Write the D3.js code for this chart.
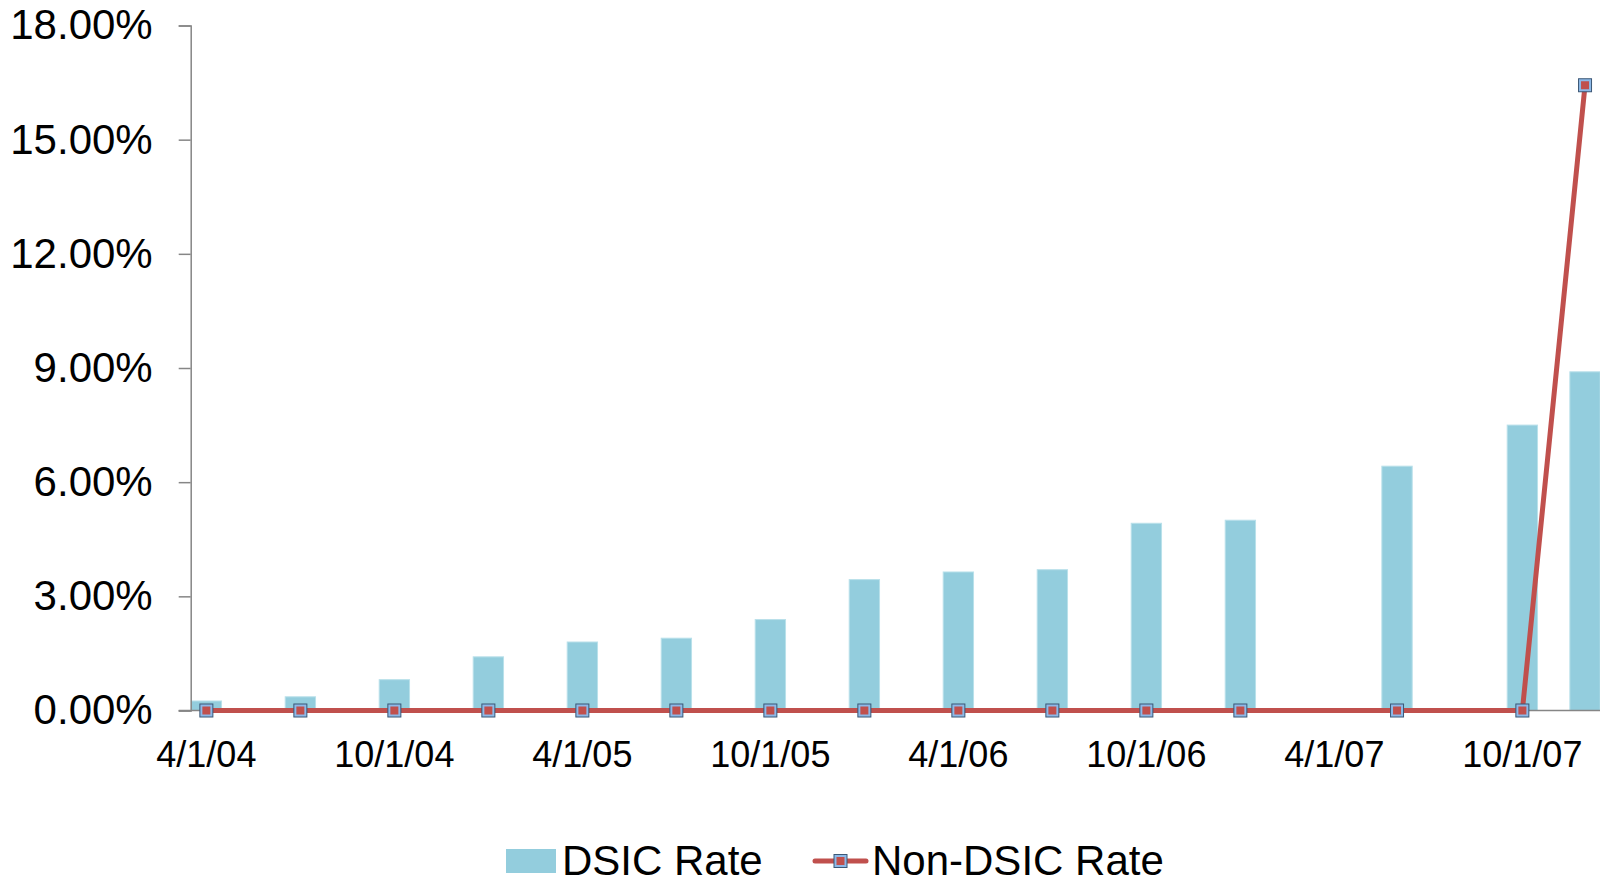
<!DOCTYPE html>
<html>
<head>
<meta charset="utf-8">
<script src="https://cdn.jsdelivr.net/npm/d3@7"></script>
<style>
  body { margin: 0; background: #fff; }
  svg { display: block; font-family: "Liberation Sans", Arial, sans-serif; }
</style>
</head>
<body>
<div id="canvas"></div>
<script>
"use strict"

// DATA
let dates = ["2004-04-01", "2004-07-01", "2004-10-01", "2005-01-01", "2005-04-01",
  "2005-07-01", "2005-10-01", "2006-01-01", "2006-04-01", "2006-07-01",
  "2006-10-01", "2007-01-01", "2007-06-01", "2007-10-01", "2007-12-01"];
let dsicRate = [0.25, 0.36, 0.81, 1.41, 1.80, 1.90, 2.39, 3.44, 3.64, 3.70, 4.92, 5.00, 6.42, 7.50, 8.90];
let nonDsicRate = [0, 0, 0, 0, 0, 0, 0, 0, 0, 0, 0, 0, 0, 0, 16.43];
let xTickLabels = ["4/1/04", "10/1/04", "4/1/05", "10/1/05", "4/1/06", "10/1/06", "4/1/07", "10/1/07"];
let yTicks = [0, 3, 6, 9, 12, 15, 18];
let seriesNames = ["DSIC Rate", "Non-DSIC Rate"];

/* drawing config */
let svgWidth = 1600;
let svgHeight = 879;
let plotLeft = 190.7;
let plotRight = 1600.7;
let plotTop = 25.5;
let plotBottom = 710.5;

let barColor = "#93CDDD";
let lineColor = "#C0504D";
let axisColor = "#868686";

let svg = d3.select("#canvas")
  .append("svg")
  .attr("width", svgWidth)
  .attr("height", svgHeight);

let parse = d3.timeParse("%Y-%m-%d");
let fmtMonth = d3.timeFormat("%Y-%m");

// month slots (date axis with base unit = months)
let months = d3.timeMonth.range(parse("2004-04-01"), parse("2008-01-01")).map(fmtMonth);

let xScale = d3.scaleBand()
  .domain(months)
  .range([plotLeft, plotRight])
  .padding(0);

let yScale = d3.scaleLinear()
  .domain([0, 18])
  .range([plotBottom, plotTop]);

let data = dates.map(function (d, i) {
  return { month: fmtMonth(parse(d)), dsic: dsicRate[i], non: nonDsicRate[i] };
});

// BARS
svg.selectAll("rect.bar")
  .data(data)
  .join("rect")
  .attr("class", "bar")
  .attr("x", d => xScale(d.month) + 0.5)
  .attr("width", xScale.bandwidth() - 1)
  .attr("y", d => yScale(d.dsic))
  .attr("height", d => yScale(0) - yScale(d.dsic))
  .attr("fill", barColor)
  .attr("stroke", "#B9E0EA")
  .attr("stroke-width", 1);

// Y AXIS
let yAxis = d3.axisLeft(yScale)
  .tickValues(yTicks)
  .tickSize(12)
  .tickPadding(26)
  .tickFormat(d => d.toFixed(2) + "%");

let yG = svg.append("g")
  .attr("transform", "translate(" + plotLeft + ",0)")
  .call(yAxis);
yG.select(".domain").attr("stroke", axisColor).attr("stroke-width", 1.5);
yG.selectAll(".tick line").attr("stroke", axisColor).attr("stroke-width", 1.5);
yG.selectAll(".tick text")
  .attr("fill", "#000")
  .style("font-size", "42px")
  .style("font-family", "Liberation Sans, Arial, sans-serif");

// X AXIS (baseline + labels, no tick marks)
let tickMonths = xTickLabels.map(function (t) {
  return fmtMonth(d3.timeParse("%m/%d/%y")(t));
});
let xAxis = d3.axisBottom(xScale)
  .tickValues(tickMonths)
  .tickSize(0)
  .tickPadding(31)
  .tickFormat((d, i) => xTickLabels[i]);

let xG = svg.append("g")
  .attr("transform", "translate(0," + plotBottom + ")")
  .call(xAxis);
xG.select(".domain").remove();
xG.selectAll(".tick text")
  .attr("fill", "#000")
  .style("font-size", "36px")
  .style("font-family", "Liberation Sans, Arial, sans-serif");

svg.append("line")
  .attr("x1", plotLeft - 12)
  .attr("x2", plotRight)
  .attr("y1", plotBottom)
  .attr("y2", plotBottom)
  .attr("stroke", axisColor)
  .attr("stroke-width", 1.5);

// LINE
let cx = d => xScale(d.month) + xScale.bandwidth() / 2;

svg.append("path")
  .datum(data)
  .attr("fill", "none")
  .attr("stroke", lineColor)
  .attr("stroke-width", 5)
  .attr("stroke-linejoin", "round")
  .attr("d", d3.line().x(cx).y(d => yScale(d.non)));

function drawMarker(g, x, y) {
  g.append("rect")
    .attr("x", x - 6.5).attr("y", y - 6.5)
    .attr("width", 13).attr("height", 13)
    .attr("fill", "#8DB9E8")
    .attr("stroke", "#3B5775")
    .attr("stroke-width", 1);
  g.append("rect")
    .attr("x", x - 4).attr("y", y - 4)
    .attr("width", 8).attr("height", 8)
    .attr("fill", lineColor);
}

let markers = svg.append("g");
data.forEach(function (d) {
  drawMarker(markers, cx(d), yScale(d.non));
});

// LEGEND
let legendY = 861;
svg.append("rect")
  .attr("x", 506).attr("y", legendY - 12)
  .attr("width", 50).attr("height", 24)
  .attr("fill", barColor);
svg.append("text")
  .attr("x", 562).attr("y", legendY + 14)
  .style("font-size", "42px")
  .text(seriesNames[0]);

svg.append("line")
  .attr("x1", 815).attr("x2", 866)
  .attr("y1", legendY).attr("y2", legendY)
  .attr("stroke", lineColor)
  .attr("stroke-width", 5)
  .attr("stroke-linecap", "round");
drawMarker(svg, 840.5, legendY);
svg.append("text")
  .attr("x", 872).attr("y", legendY + 14)
  .style("font-size", "42px")
  .text(seriesNames[1]);
</script>
</body>
</html>
